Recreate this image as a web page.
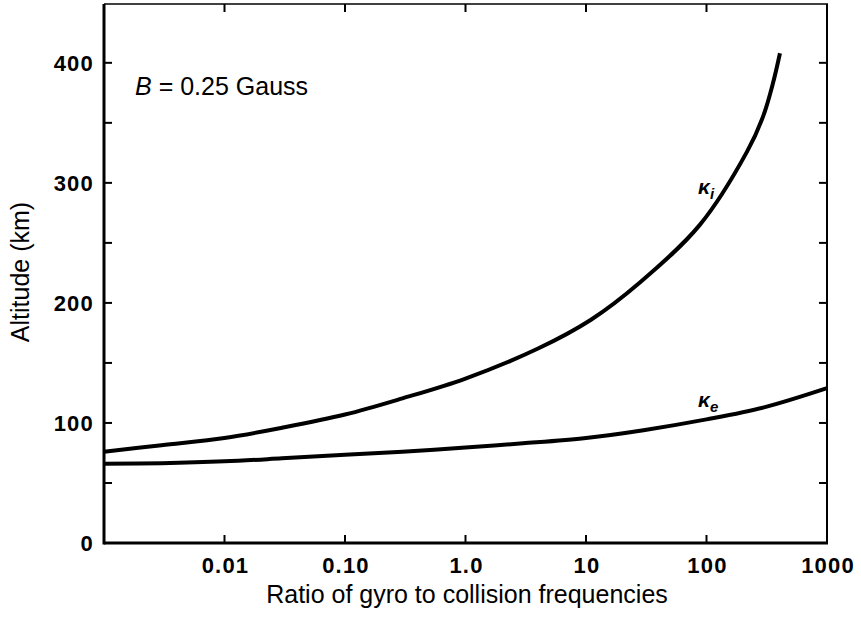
<!DOCTYPE html>
<html>
<head>
<meta charset="utf-8">
<script src="https://cdn.jsdelivr.net/npm/d3@7"></script>
<style>
  body { margin: 0; background: #fff; }
  svg text { font-family: "Liberation Sans", Arial, Helvetica, sans-serif; fill: #000; }
  .tick-label { font-size: 22px; font-weight: bold; letter-spacing: 1.2px; }
  .axis-title { font-size: 25px; }
</style>
</head>
<body>
<div id="chartArea"></div>
<script>
// ratio of gyro to collision frequency (log axis)
const ionRatio = [0.001, 0.003, 0.01, 0.03, 0.1, 0.3, 1, 4, 11, 28, 88, 217, 294, 356, 407];
const ionAltitude = [76, 81.5, 87.5, 96, 107, 120.5, 137, 162, 186, 217, 265, 326, 355, 383, 408];

const electronRatio = [0.001, 0.003, 0.01, 0.03, 0.1, 0.3, 1, 3, 10, 30, 100, 300, 1000];
const electronAltitude = [66, 66.5, 68, 70.5, 73.5, 76, 79.5, 83, 87.5, 94, 103, 113, 129];

const xTickValues = [0.01, 0.1, 1, 10, 100, 1000];
const xTickLabels = ["0.01", "0.10", "1.0", "10", "100", "1000"];
const yTickValues = [0, 100, 200, 300, 400];
const yMinorTicks = [0, 50, 100, 150, 200, 250, 300, 350, 400];

const width = 861;
const height = 617;
const margin = { top: 4, right: 34, bottom: 74, left: 104 };

const svg = d3
  .select("#chartArea")
  .append("svg")
  .attr("width", width)
  .attr("height", height);

const xScale = d3
  .scaleLog()
  .domain([0.001, 1000])
  .range([margin.left, width - margin.right]);

const yScale = d3
  .scaleLinear()
  .domain([0, 449])
  .range([height - margin.bottom, margin.top]);

const x0 = margin.left;
const x1 = width - margin.right;
const y0 = height - margin.bottom;
const y1 = margin.top;

// ticks point into the plot on all four sides
const tickLen = 8;
const frame = svg.append("g").attr("stroke", "#000");

frame
  .selectAll("line.xtick-b")
  .data(xTickValues)
  .enter()
  .append("line")
  .attr("x1", d => xScale(d))
  .attr("x2", d => xScale(d))
  .attr("y1", y0)
  .attr("y2", y0 - tickLen)
  .attr("stroke-width", 2);

frame
  .selectAll("line.xtick-t")
  .data(xTickValues)
  .enter()
  .append("line")
  .attr("x1", d => xScale(d))
  .attr("x2", d => xScale(d))
  .attr("y1", y1)
  .attr("y2", y1 + tickLen)
  .attr("stroke-width", 2);

frame
  .selectAll("line.ytick-l")
  .data(yMinorTicks)
  .enter()
  .append("line")
  .attr("x1", x0)
  .attr("x2", x0 + tickLen)
  .attr("y1", d => yScale(d))
  .attr("y2", d => yScale(d))
  .attr("stroke-width", 2);

frame
  .selectAll("line.ytick-r")
  .data(yMinorTicks)
  .enter()
  .append("line")
  .attr("x1", x1)
  .attr("x2", x1 - tickLen)
  .attr("y1", d => yScale(d))
  .attr("y2", d => yScale(d))
  .attr("stroke-width", 2);

// plot border, heavier on the left and bottom
frame.append("line").attr("x1", x0).attr("x2", x0).attr("y1", y1).attr("y2", y0 + 1.5).attr("stroke-width", 3);
frame.append("line").attr("x1", x0).attr("x2", x1 + 1).attr("y1", y0).attr("y2", y0).attr("stroke-width", 3);
frame.append("line").attr("x1", x1).attr("x2", x1).attr("y1", y1).attr("y2", y0).attr("stroke-width", 2);
frame.append("line").attr("x1", x0).attr("x2", x1 + 1).attr("y1", y1).attr("y2", y1).attr("stroke-width", 1.5);

// tick labels
svg
  .selectAll("text.xlabel")
  .data(xTickValues)
  .enter()
  .append("text")
  .attr("class", "tick-label")
  .attr("x", d => xScale(d) + 1)
  .attr("y", y0 + 30)
  .attr("text-anchor", "middle")
  .text((d, i) => xTickLabels[i]);

svg
  .selectAll("text.ylabel")
  .data(yTickValues)
  .enter()
  .append("text")
  .attr("class", "tick-label")
  .attr("x", x0 - 10)
  .attr("y", d => yScale(d) + 8)
  .attr("text-anchor", "end")
  .text(d => d);

svg
  .append("text")
  .attr("class", "axis-title")
  .attr("x", 467)
  .attr("y", 603)
  .attr("text-anchor", "middle")
  .text("Ratio of gyro to collision frequencies");

svg
  .append("text")
  .attr("class", "axis-title")
  .attr("transform", "translate(29," + 272 + ") rotate(-90)")
  .attr("text-anchor", "middle")
  .text("Altitude (km)");

const field = svg
  .append("text")
  .attr("class", "axis-title")
  .attr("x", 135)
  .attr("y", 95);
field.append("tspan").attr("font-style", "italic").text("B");
field.append("tspan").text(" = 0.25 Gauss");

// conductivity curves
const line = d3
  .line()
  .x(d => xScale(d[0]))
  .y(d => yScale(d[1]))
  .curve(d3.curveCatmullRom.alpha(0.5));

svg
  .append("path")
  .datum(d3.zip(ionRatio, ionAltitude))
  .attr("fill", "none")
  .attr("stroke", "#000")
  .attr("stroke-width", 4)
  .attr("d", line);

svg
  .append("path")
  .datum(d3.zip(electronRatio, electronAltitude))
  .attr("fill", "none")
  .attr("stroke", "#000")
  .attr("stroke-width", 4)
  .attr("d", line);

// curve labels
const kappaI = svg
  .append("text")
  .attr("x", 698)
  .attr("y", 194)
  .attr("font-size", 21)
  .attr("font-weight", "bold")
  .attr("font-style", "italic");
kappaI.append("tspan").text("κ");
kappaI.append("tspan").attr("font-size", 15).attr("dy", 5).text("i");

const kappaE = svg
  .append("text")
  .attr("x", 698)
  .attr("y", 407)
  .attr("font-size", 21)
  .attr("font-weight", "bold")
  .attr("font-style", "italic");
kappaE.append("tspan").text("κ");
kappaE.append("tspan").attr("font-size", 15).attr("dy", 5).text("e");
</script>
</body>
</html>
